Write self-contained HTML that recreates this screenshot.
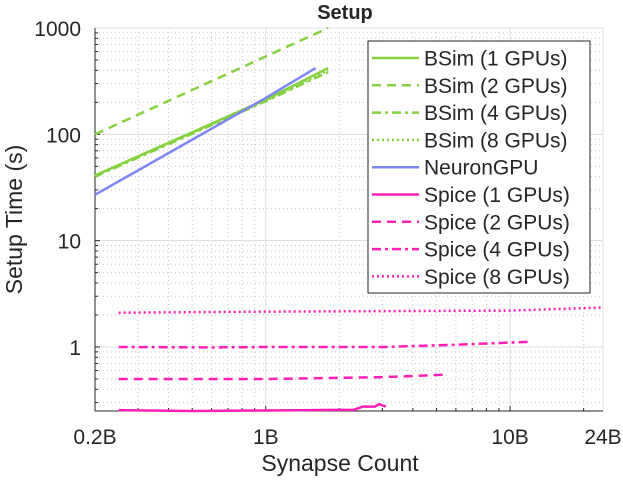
<!DOCTYPE html>
<html><head><meta charset="utf-8"><style>
body{margin:0;background:#fff;font-family:"Liberation Sans",sans-serif}
svg text{font-family:"Liberation Sans",sans-serif;fill:#262626}
</style></head><body>
<svg id="chart" width="623" height="477"></svg>
<script>
const xTickVals=[0.2,1,10,24];
const xTickLabels=["0.2B","1B","10B","24B"];
const yTickVals=[1,10,100,1000];
const yTickLabels=["1","10","100","1000"];
const seriesNames=["BSim (1 GPUs)","BSim (2 GPUs)","BSim (4 GPUs)","BSim (8 GPUs)","NeuronGPU","Spice (1 GPUs)","Spice (2 GPUs)","Spice (4 GPUs)","Spice (8 GPUs)"];
const bsim1X=[0.2,1,1.8]; const bsim1Y=[41,212,420];
const bsim2X=[0.2,1,1.8]; const bsim2Y=[100,540,1000];
const bsim4X=[0.2,1,1.8]; const bsim4Y=[40,205,385];
const bsim8X=[0.2,1,1.8]; const bsim8Y=[41,207,400];
const neuronX=[0.2,1,1.6]; const neuronY=[27,220,420];
const spice1X=[0.25,0.5,1,2.3,2.5,2.8,2.9,3.1]; const spice1Y=[0.255,0.25,0.253,0.257,0.275,0.275,0.29,0.275];
const spice2X=[0.25,1,3,5.5]; const spice2Y=[0.5,0.5,0.52,0.55];
const spice4X=[0.25,0.6,1,3,6,12]; const spice4Y=[1,0.99,1,1,1.05,1.12];
const spice8X=[0.25,1,10,24]; const spice8Y=[2.1,2.15,2.2,2.35];
const SX=[bsim1X,bsim2X,bsim4X,bsim8X,neuronX,spice1X,spice2X,spice4X,spice8X];
const SY=[bsim1Y,bsim2Y,bsim4Y,bsim8Y,neuronY,spice1Y,spice2Y,spice4Y,spice8Y];
const colors=["#86d13f","#86d13f","#86d13f","#86d13f","#7e86f5","#ff1fb4","#ff1fb4","#ff1fb4","#ff1fb4"];
const dashes=["","9,6","9,4,3,4","2,3","","","9,6","9,4,3,4","2,3"];
const L=95,R=603,T=28,B=411,xmin=0.2,xmax=24,ymin=0.25,ymax=1000;
const X=v=>L+(Math.log10(v/xmin))/Math.log10(xmax/xmin)*(R-L);
const Y=v=>B-(Math.log10(v/ymin))/Math.log10(ymax/ymin)*(B-T);
const svg=document.getElementById('chart');const NS='http://www.w3.org/2000/svg';
function mk(t,a,p){const e=document.createElementNS(NS,t);for(const k in a)e.setAttribute(k,a[k]);(p||svg).appendChild(e);return e;}
const g=mk('g',{});


for(let d=-1;d<=1;d++)for(let m=1;m<10;m++){const v=m*Math.pow(10,d);if(v<xmin||v>xmax)continue;const x=X(v);
 mk('line',{x1:x,x2:x,y1:T,y2:B,stroke:m==1?'#dcdcdc':'#c8c8c8','stroke-dasharray':m==1?'':'1,3','stroke-width':1},g);}
for(let d=-1;d<=2;d++)for(let m=1;m<10;m++){const v=m*Math.pow(10,d);if(v<ymin||v>ymax)continue;const y=Y(v);
 mk('line',{x1:L,x2:R,y1:y,y2:y,stroke:m==1?'#dcdcdc':'#c8c8c8','stroke-dasharray':m==1?'':'1,3','stroke-width':1},g);}
mk('rect',{x:L,y:T,width:R-L,height:B-T,fill:'none',stroke:'#e0e0e0'});
const ax=mk('g',{});


mk('line',{x1:L,x2:L,y1:T,y2:B,stroke:'#262626'},ax);
mk('line',{x1:L,x2:R,y1:B,y2:B,stroke:'#262626'},ax);
for(let d=-1;d<=2;d++)for(let m=1;m<10;m++){const v=m*Math.pow(10,d);if(v<ymin||v>ymax)continue;const y=Y(v);mk('line',{x1:L,x2:L+(m==1?5:3),y1:y,y2:y,stroke:'#262626'},ax);}
for(let d=-1;d<=1;d++)for(let m=1;m<10;m++){const v=m*Math.pow(10,d);if(v<xmin||v>xmax)continue;const x=X(v);mk('line',{x1:x,x2:x,y1:B,y2:B-(m==1?5:3),stroke:'#262626'},ax);}
xTickVals.forEach((v,i)=>{const t=mk('text',{x:X(v),y:B+33,'text-anchor':'middle','font-size':21});t.textContent=xTickLabels[i];

});
yTickVals.forEach((v,i)=>{const t=mk('text',{x:L-14,y:Y(v)+8,'text-anchor':'end','font-size':21});t.textContent=yTickLabels[i];

});
let t=mk('text',{x:340,y:471,'text-anchor':'middle','font-size':23});t.textContent='Synapse Count';


t=mk('text',{x:0,y:0,'text-anchor':'middle','font-size':23,transform:`translate(22,${(T+B)/2}) rotate(-90)`});t.textContent='Setup Time (s)';


t=mk('text',{x:345,y:19,'text-anchor':'middle','font-size':20,'font-weight':'bold'});t.textContent='Setup';


SX.forEach((xs,i)=>{const p=mk('polyline',{points:xs.map((x,j)=>X(x)+','+Y(SY[i][j])).join(' '),fill:'none',stroke:colors[i],'stroke-width':2.5,'stroke-dasharray':dashes[i]});

});
const lg=mk('g',{});


mk('rect',{x:368,y:41,width:222,height:252,fill:'#fff',stroke:'#262626','stroke-width':1},lg);
seriesNames.forEach((n,i)=>{const y=58+i*27.3;const e=mk('g',{},lg);


mk('line',{x1:372,x2:419,y1:y,y2:y,stroke:colors[i],'stroke-width':2.5,'stroke-dasharray':dashes[i]},e);
const tt=mk('text',{x:424,y:y+7.5,'font-size':21},e);tt.textContent=n;});
</script>
</body></html>
